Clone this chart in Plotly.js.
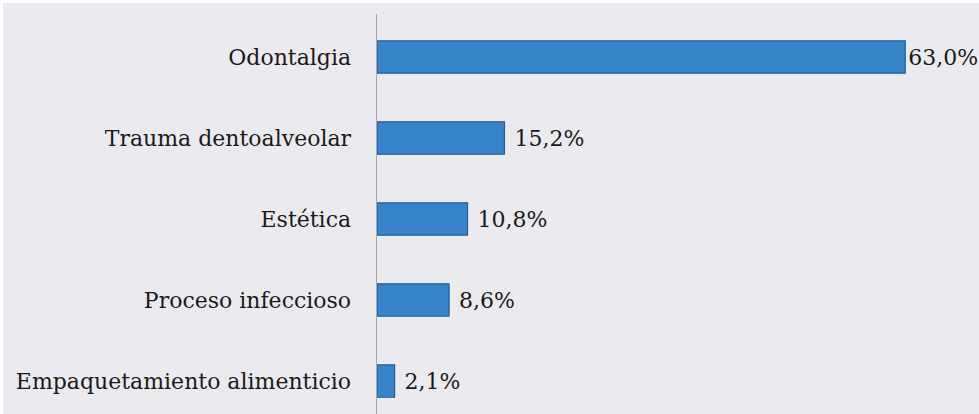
<!DOCTYPE html>
<html>
<head>
<meta charset="utf-8">
<script src="https://cdn.plot.ly/plotly-3.0.1.min.js"></script>
<style>
  html, body { margin: 0; padding: 0; background: #ffffff; }
  #chart { position: absolute; left: 3px; top: 3px; width: 976px; height: 411px; }
</style>
</head>
<body>
<div id="chart"></div>
<script>
const categories = [
  "Odontalgia",
  "Trauma dentoalveolar",
  "Estética",
  "Proceso infeccioso",
  "Empaquetamiento alimenticio"
];
const values = [63.0, 15.2, 10.8, 8.6, 2.1];
const valueLabels = ["63,0%", "15,2%", "10,8%", "8,6%", "2,1%"];

const serif = "DejaVu Serif";

const trace = {
  type: "bar",
  orientation: "h",
  y: categories,
  x: values,
  text: valueLabels.map((s, i) => (i === 0 ? "" : "\u00a0") + s),
  textposition: "outside",
  constraintext: "none",
  cliponaxis: false,
  textfont: { family: serif, size: 22, color: "#1a1a1a" },
  marker: { color: "#3784ca", line: { color: "#245d96", width: 1.2 } },
  hoverinfo: "none"
};

const layout = {
  width: 976,
  height: 411,
  margin: { l: 374, r: 0, t: 11, b: 0, pad: 0 },
  paper_bgcolor: "#ebeaef",
  plot_bgcolor: "#ebeaef",
  showlegend: false,
  bargap: 0.6,
  font: { family: serif, size: 22, color: "#1a1a1a" },
  xaxis: {
    range: [0, 71.8],
    visible: false,
    showgrid: false,
    zeroline: false,
    fixedrange: true
  },
  yaxis: {
    type: "category",
    range: [4.407, -0.531],
    showline: true,
    linecolor: "#a9a9ad",
    linewidth: 1.5,
    showgrid: false,
    zeroline: false,
    ticks: "",
    ticklabelstandoff: 20,
    tickfont: { family: serif, size: 22, color: "#1a1a1a" },
    fixedrange: true
  }
};

Plotly.newPlot("chart", [trace], layout, { displayModeBar: false, staticPlot: true });
</script>
</body>
</html>
